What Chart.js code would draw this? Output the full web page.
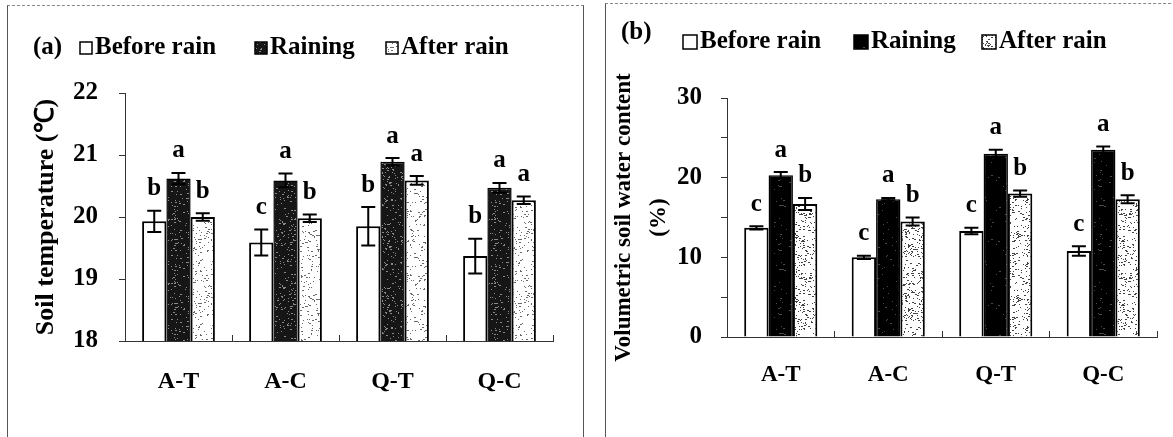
<!DOCTYPE html>
<html>
<head>
<meta charset="utf-8">
<script src="https://cdn.jsdelivr.net/npm/chart.js@4.4.1/dist/chart.umd.min.js"></script>
<style>
  html, body { margin: 0; padding: 0; background: #fff; }
  body { width: 1173px; height: 437px; position: relative; overflow: hidden; }
  .panel { position: absolute; border-top: 1px dashed #888; border-left: 1px solid #555; border-right: 1px solid #555; }
  #boxA { left: 7px; top: 5px; width: 575px; height: 440px; }
  #boxB { left: 605px; top: 3px; width: 600px; height: 440px; border-right: none; }
  canvas { position: absolute; top: 0; }
  #chartA { left: 0; }
  #chartB { left: 590px; }
</style>
</head>
<body>
<div class="panel" id="boxA"></div>
<div class="panel" id="boxB"></div>
<canvas id="chartA" width="590" height="437"></canvas>
<canvas id="chartB" width="583" height="437"></canvas>
<script>
var categories = ["A-T", "A-C", "Q-T", "Q-C"];
var seriesNames = ["Before rain", "Raining", "After rain"];

// (a) soil temperature
var tempBefore = [19.93, 19.59, 19.85, 19.37];
var tempRaining = [20.62, 20.59, 20.89, 20.47];
var tempAfter = [20.00, 19.98, 20.59, 20.27];
var tempBeforeErr = [0.17, 0.21, 0.31, 0.28];
var tempRainingErr = [0.09, 0.11, 0.06, 0.08];
var tempAfterErr = [0.06, 0.06, 0.07, 0.06];
var tempBeforeLetters = ["b", "c", "b", "b"];
var tempRainingLetters = ["a", "a", "a", "a"];
var tempAfterLetters = ["b", "b", "a", "a"];
var tempTicks = [18, 19, 20, 21, 22];

// (b) volumetric soil water content
var waterBefore = [13.7, 10.0, 13.3, 10.8];
var waterRaining = [20.3, 17.3, 23.0, 23.5];
var waterAfter = [16.7, 14.5, 18.0, 17.3];
var waterBeforeErr = [0.2, 0.2, 0.4, 0.6];
var waterRainingErr = [0.4, 0.15, 0.5, 0.4];
var waterAfterErr = [0.75, 0.5, 0.4, 0.5];
var waterBeforeLetters = ["c", "c", "c", "c"];
var waterRainingLetters = ["a", "a", "a", "a"];
var waterAfterLetters = ["b", "b", "b", "b"];
var waterTicks = [0, 10, 20, 30];

var serif = '"Liberation Serif", "Times New Roman", serif';
Chart.defaults.font.family = serif;
Chart.defaults.color = "#000";

// speckled fills like the scanned print (texture only, not data)
function speckle(bg, dot, count, seed) {
  var c = document.createElement("canvas");
  c.width = 64; c.height = 64;
  var g = c.getContext("2d");
  g.fillStyle = bg;
  g.fillRect(0, 0, 64, 64);
  g.fillStyle = dot;
  function h(n) { var t = Math.sin(n * 12.9898 + seed * 78.233) * 43758.5453; return t - Math.floor(t); }
  for (var i = 0; i < count; i++) {
    var x = Math.floor(h(i * 2 + 1) * 64);
    var y = Math.floor(h(i * 2 + 2) * 64);
    g.fillRect(x, y, h(i + 0.5) > 0.7 ? 2 : 1, 1);
  }
  return g.createPattern(c, "repeat");
}

// error bars + significance letters
var marksPlugin = {
  id: "marks",
  afterDatasetsDraw: function (chart, args, o) {
    var ctx = chart.ctx, y = chart.scales.y;
    ctx.save();
    chart.data.datasets.forEach(function (ds, di) {
      chart.getDatasetMeta(di).data.forEach(function (bar, i) {
        var top = y.getPixelForValue(ds.data[i] + ds.errors[i]);
        var bot = y.getPixelForValue(ds.data[i] - ds.errors[i]);
        ctx.strokeStyle = "#000";
        ctx.lineWidth = 2;
        ctx.beginPath();
        ctx.moveTo(bar.x, top); ctx.lineTo(bar.x, bot);
        ctx.moveTo(bar.x - 7, top); ctx.lineTo(bar.x + 7, top);
        ctx.moveTo(bar.x - 7, bot); ctx.lineTo(bar.x + 7, bot);
        ctx.stroke();
        ctx.fillStyle = "#000";
        ctx.font = "bold " + o.size + "px " + serif;
        ctx.textAlign = "center";
        ctx.textBaseline = "middle";
        ctx.fillText(ds.letters[i], bar.x, top - o.gap);
      });
    });
    ctx.restore();
  }
};

// "(a) □Before rain ■Raining ⊡After rain" row
var keyPlugin = {
  id: "key",
  afterDraw: function (chart, args, o) {
    var ctx = chart.ctx;
    ctx.save();
    ctx.font = "bold " + o.size + "px " + serif;
    ctx.textBaseline = "middle";
    ctx.textAlign = "left";
    ctx.fillStyle = "#000";
    ctx.fillText(o.tag, o.tagX, o.tagY);
    chart.data.datasets.forEach(function (ds, i) {
      var bx = o.boxX[i], by = o.y - o.box / 2;
      ctx.fillStyle = ds.backgroundColor;
      ctx.fillRect(bx, by, o.box, o.box);
      ctx.strokeStyle = "#000";
      ctx.lineWidth = 1.5;
      ctx.strokeRect(bx, by, o.box, o.box);
      ctx.fillStyle = "#000";
      ctx.fillText(ds.label, bx + o.box + 3, o.y);
    });
    ctx.restore();
  }
};

function makeDatasets(vals, errs, letters, darkFill, lightFill) {
  return [
    { label: seriesNames[0], data: vals[0], errors: errs[0], letters: letters[0],
      backgroundColor: "#fff", borderColor: "#000", borderWidth: 2 },
    { label: seriesNames[1], data: vals[1], errors: errs[1], letters: letters[1],
      backgroundColor: darkFill, borderColor: "#000", borderWidth: 1.5 },
    { label: seriesNames[2], data: vals[2], errors: errs[2], letters: letters[2],
      backgroundColor: lightFill, borderColor: "#000", borderWidth: 2 }
  ];
}

// first chart: soil temperature
var ctx1 = document.getElementById("chartA");
var config1 = {
  type: "bar",
  data: {
    labels: categories,
    datasets: makeDatasets(
      [tempBefore, tempRaining, tempAfter],
      [tempBeforeErr, tempRainingErr, tempAfterErr],
      [tempBeforeLetters, tempRainingLetters, tempAfterLetters],
      speckle("#161616", "#8a8a8a", 260, 7),
      speckle("#ffffff", "#6a6a6a", 260, 3)
    )
  },
  options: {
    responsive: false,
    animation: false,
    categoryPercentage: 0.68,
    barPercentage: 1.0,
    layout: { padding: { left: 0, right: 37, top: 93, bottom: 36 } },
    scales: {
      x: {
        afterFit: function (s) { s.height = 60; },
        border: { color: "#333", width: 1 },
        grid: { drawOnChartArea: false, tickLength: -6, color: "#333" },
        ticks: { padding: 32, font: { size: 24, weight: "bold" } }
      },
      y: {
        min: 18, max: 22,
        afterFit: function (s) { s.width = 125; },
        border: { color: "#333", width: 1 },
        grid: { drawOnChartArea: false, tickLength: 6, color: "#333" },
        ticks: {
          stepSize: 0.5, padding: 21, font: { size: 25, weight: "bold" },
          callback: function (v) { return tempTicks.indexOf(v) >= 0 ? v : ""; }
        },
        title: {
          display: true, text: "Soil temperature (℃)",
          padding: { top: 31, bottom: 0 },
          font: { size: 26, weight: "bold", lineHeight: 1.2 }
        }
      }
    },
    plugins: {
      legend: { display: false },
      tooltip: { enabled: false },
      marks: { size: 25, gap: 22 },
      key: { tag: "(a)", tagX: 33, tagY: 48, y: 48, size: 25, box: 12, boxX: [80, 255, 386] }
    }
  },
  plugins: [marksPlugin, keyPlugin]
};
var myChart1 = new Chart(ctx1, config1);

// second chart: soil water content
var ctx2 = document.getElementById("chartB");
var config2 = {
  type: "bar",
  data: {
    labels: categories,
    datasets: makeDatasets(
      [waterBefore, waterRaining, waterAfter],
      [waterBeforeErr, waterRainingErr, waterAfterErr],
      [waterBeforeLetters, waterRainingLetters, waterAfterLetters],
      speckle("#000000", "#4a4a4a", 60, 11),
      speckle("#ffffff", "#444444", 420, 5)
    )
  },
  options: {
    responsive: false,
    animation: false,
    categoryPercentage: 0.68,
    barPercentage: 1.0,
    layout: { padding: { left: 0, right: 16, top: 98, bottom: 40 } },
    scales: {
      x: {
        afterFit: function (s) { s.height = 60; },
        border: { color: "#333", width: 1 },
        grid: { drawOnChartArea: false, tickLength: -6, color: "#333" },
        ticks: { padding: 30, font: { size: 23, weight: "bold" } }
      },
      y: {
        min: 0, max: 30,
        afterFit: function (s) { s.width = 137; },
        border: { color: "#333", width: 1 },
        grid: { drawOnChartArea: false, tickLength: 6, color: "#333" },
        ticks: {
          stepSize: 5, padding: 19, font: { size: 25, weight: "bold" },
          callback: function (v) { return waterTicks.indexOf(v) >= 0 ? v : ""; }
        },
        title: {
          display: true, text: ["Volumetric soil water content", "(%)"],
          padding: { top: 17, bottom: 0 },
          font: { size: 23, weight: "bold", lineHeight: 1.52 }
        }
      }
    },
    plugins: {
      legend: { display: false },
      tooltip: { enabled: false },
      marks: { size: 25, gap: 22 },
      key: { tag: "(b)", tagX: 31, tagY: 33, y: 42, size: 25, box: 14, boxX: [93, 264, 392] }
    }
  },
  plugins: [marksPlugin, keyPlugin]
};
var myChart2 = new Chart(ctx2, config2);
</script>
</body>
</html>
